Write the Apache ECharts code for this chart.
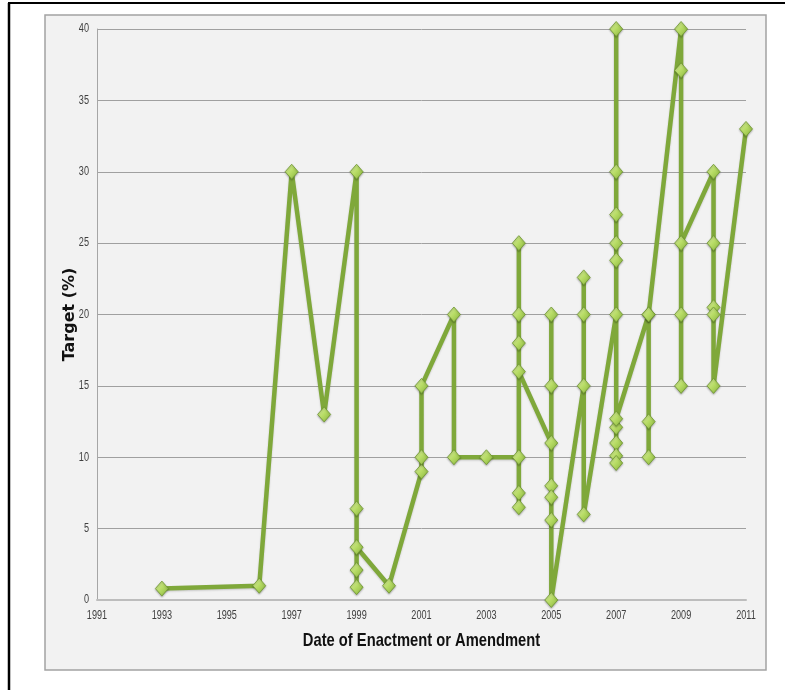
<!DOCTYPE html>
<html>
<head>
<meta charset="utf-8">
<script src="https://cdn.jsdelivr.net/npm/echarts@6/dist/echarts.min.js"></script>
<style>
  html, body { margin: 0; padding: 0; background: #ffffff; }
  #chart { width: 785px; height: 690px; }
</style>
</head>
<body>
<div id="chart"></div>
<script>
// Enactment / amendment year and the target (%) adopted, in the order the line visits them
const years = [
  1993, 1996, 1997, 1998,
  1999, 1999, 1999, 1999, 1999,
  2000,
  2001, 2001, 2001,
  2002, 2002,
  2003,
  2004, 2004, 2004, 2004, 2004, 2004, 2004,
  2005, 2005, 2005, 2005, 2005, 2005, 2005,
  2006, 2006, 2006, 2006,
  2007, 2007, 2007, 2007, 2007, 2007, 2007, 2007, 2007, 2007, 2007,
  2008, 2008, 2008, 2008,
  2009, 2009, 2009, 2009, 2009,
  2010, 2010, 2010, 2010, 2010,
  2011
];
const targets = [
  0.8, 1.0, 30, 13,
  30, 6.4, 0.9, 2.1, 3.7,
  1.0,
  9, 10, 15,
  20, 10,
  10,
  10, 7.5, 6.5, 25, 20, 18, 16,
  11, 20, 15, 8, 7.2, 5.6, 0,
  15, 22.6, 20, 6,
  20, 40, 30, 27, 25, 23.8, 12.1, 11, 10.1, 9.6, 12.7,
  20, 12.5, 10, 20,
  40, 37.1, 20, 15, 25,
  30, 25, 20.5, 20, 15,
  33
];

const yTicks = [0, 5, 10, 15, 20, 25, 30, 35, 40];
const xTickYears = [1991, 1993, 1995, 1997, 1999, 2001, 2003, 2005, 2007, 2009, 2011];
const xTitle = 'Date of Enactment or Amendment';
const yTitle = 'Target (%)';

const labelFont = "'Liberation Sans', Arial, sans-serif";
const squeeze = 0.76; // horizontal compression for the narrow label lettering

const points = years.map((y, i) => [y, targets[i]]);

const chart = echarts.init(document.getElementById('chart'), null, { renderer: 'canvas' });

// static frame drawn behind the plot
const frame = [
  {
    type: 'rect', z: -20, silent: true,
    shape: { x: 45, y: 15, width: 721, height: 655 },
    style: { fill: '#f2f2f2', stroke: '#a3a3a3', lineWidth: 1.5 }
  },
  {
    type: 'line', z: -10, silent: true,
    shape: { x1: 8, y1: 3, x2: 785, y2: 3 },
    style: { stroke: '#000000', lineWidth: 2 }
  },
  {
    type: 'line', z: -10, silent: true,
    shape: { x1: 9, y1: 3, x2: 9, y2: 690 },
    style: { stroke: '#000000', lineWidth: 2.5 }
  }
];

chart.setOption({
  animation: false,
  backgroundColor: '#ffffff',
  graphic: frame,
  grid: { left: 97, right: 39, top: 29, bottom: 90, containLabel: false },
  xAxis: {
    type: 'value',
    min: xTickYears[0],
    max: xTickYears[xTickYears.length - 1],
    interval: 2,
    axisLine: { show: true, lineStyle: { color: '#bdbdbd', width: 2 } },
    axisTick: { show: false },
    splitLine: { show: false },
    axisLabel: { show: false }
  },
  yAxis: {
    type: 'value',
    min: yTicks[0],
    max: yTicks[yTicks.length - 1],
    interval: 5,
    name: yTitle,
    nameLocation: 'middle',
    nameGap: 19,
    nameRotate: 90,
    nameTextStyle: { fontFamily: "'DejaVu Sans', sans-serif", fontWeight: 'bold', fontSize: 16, color: '#111111' },
    axisLine: { show: true, lineStyle: { color: '#a6a6a6', width: 1 } },
    axisTick: { show: false },
    splitLine: { show: true, lineStyle: { color: '#a0a0a0', width: 1 } },
    axisLabel: { show: false }
  },
  series: [{
    type: 'line',
    data: points,
    symbol: 'diamond',
    symbolSize: [13, 15],
    lineStyle: {
      color: '#7fa83a', width: 4.5,
      shadowColor: 'rgba(0,0,0,0.18)', shadowBlur: 2, shadowOffsetY: 1
    },
    itemStyle: {
      color: new echarts.graphic.LinearGradient(0, 0, 1, 1, [
        { offset: 0, color: '#e0f3a8' },
        { offset: 0.5, color: '#b6db64' },
        { offset: 1, color: '#86b23a' }
      ]),
      borderColor: '#6f9a30',
      borderWidth: 0.8,
      shadowColor: 'rgba(0,0,0,0.3)', shadowBlur: 2, shadowOffsetY: 1
    },
    emphasis: { disabled: true }
  }]
});

// Tick labels and the x title use condensed lettering, placed through the axis scales
const toPx = (x, y) => chart.convertToPixel({ gridIndex: 0 }, [x, y]);
const labels = [];
xTickYears.forEach(yr => {
  const p = toPx(yr, 0);
  labels.push({
    type: 'text', silent: true, x: p[0], y: p[1] + 16, scaleX: squeeze,
    style: { text: String(yr), x: 0, y: 0, align: 'center', verticalAlign: 'middle',
             fontFamily: labelFont, fontSize: 12, fill: '#404040' }
  });
});
yTicks.forEach(v => {
  const p = toPx(xTickYears[0], v);
  labels.push({
    type: 'text', silent: true, x: p[0] - 8, y: p[1], scaleX: squeeze,
    style: { text: String(v), x: 0, y: 0, align: 'right', verticalAlign: 'middle',
             fontFamily: labelFont, fontSize: 12, fill: '#404040' }
  });
});
const xMid = toPx((xTickYears[0] + xTickYears[xTickYears.length - 1]) / 2, 0);
labels.push({
  type: 'text', silent: true, x: xMid[0], y: xMid[1] + 41, scaleX: 0.775,
  style: { text: xTitle, x: 0, y: 0, align: 'center', verticalAlign: 'middle',
           fontFamily: labelFont, fontWeight: 'bold', fontSize: 19, fill: '#111111' }
});

chart.setOption({ graphic: frame.concat(labels) });
</script>
</body>
</html>
